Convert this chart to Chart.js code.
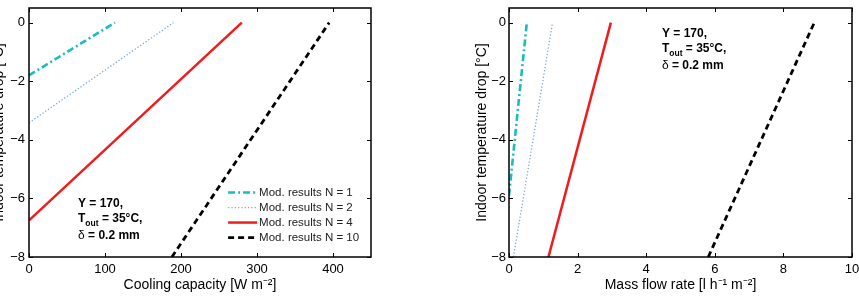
<!DOCTYPE html>
<html><head><meta charset="utf-8">
<script src="https://cdn.jsdelivr.net/npm/chart.js@4.4.0/dist/chart.umd.min.js"></script>
<style>
html,body{margin:0;padding:0;background:#fff;width:859px;height:298px;overflow:hidden;position:relative}
.p{position:absolute;top:0;height:298px}
#pa{left:-12px;width:442px}
#pb{left:465px;width:394px}
</style></head><body>
<div class="p" id="pa"><canvas id="ca"></canvas></div>
<div class="p" id="pb"><canvas id="cb"></canvas></div>
<script>
// ---- data ----
const seriesLabels = ['Mod. results N = 1', 'Mod. results N = 2', 'Mod. results N = 4', 'Mod. results N = 10'];
// Left panel: cooling capacity [W m-2] vs indoor temperature drop [°C]
const capN1 = [0, 113],   dropCapN1 = [-1.8, 0];
const capN2 = [0, 190],   dropCapN2 = [-3.42, 0];
const capN4 = [0, 280],   dropCapN4 = [-6.75, 0];
const capN10 = [188, 395], dropCapN10 = [-8, 0];
// Right panel: mass flow rate [l h-1 m-2] vs indoor temperature drop [°C]
const flowN1 = [0, 0.52],    dropFlowN1 = [-5.9, 0];
const flowN2 = [0.13, 1.27], dropFlowN2 = [-8, 0];
const flowN4 = [1.15, 2.97], dropFlowN4 = [-8, 0];
const flowN10 = [5.81, 8.9], dropFlowN10 = [-8, 0];
// tick labels
const yTicks = [-8, -6, -4, -2, 0];
const xTicksCap = [0, 100, 200, 300, 400];
const xTicksFlow = [0, 2, 4, 6, 8, 10];

const F = "'Liberation Sans', Arial, Helvetica, sans-serif";
Chart.defaults.font.family = F;
Chart.defaults.font.size = 13;
Chart.defaults.color = '#000';
const fmt = v => String(v).replace('-', '\u2212');
function pts(xs, ys) { return xs.map((x, i) => ({x: x, y: ys[i]})); }

const styles = [
  {borderColor: '#1cbcbc', borderWidth: 2.6, borderDash: [7, 3, 2, 3]},
  {borderColor: '#7eaad2', borderWidth: 1.3, borderDash: [1.3, 2]},
  {borderColor: '#ee1c1c', borderWidth: 2.5, borderDash: []},
  {borderColor: '#000000', borderWidth: 2.8, borderDash: [6, 4]}
];

function datasets(groups) {
  return groups.map((g, i) => Object.assign({
    label: seriesLabels[i], data: pts(g[0], g[1]), showLine: true,
    pointRadius: 0, fill: false, tension: 0
  }, styles[i]));
}

const frame = {
  id: 'frame',
  afterDraw(chart) {
    const {ctx, chartArea: {left, right, top, bottom}, scales: {x, y}} = chart;
    ctx.save();
    ctx.strokeStyle = '#000';
    ctx.lineWidth = 1;
    ctx.beginPath();
    x.ticks.forEach(t => {
      const px = Math.round(x.getPixelForValue(t.value)) + 0.5;
      ctx.moveTo(px, bottom); ctx.lineTo(px, bottom - 4);
      ctx.moveTo(px, top); ctx.lineTo(px, top + 4);
    });
    y.ticks.forEach(t => {
      const py = Math.round(y.getPixelForValue(t.value)) + 0.5;
      ctx.moveTo(left, py); ctx.lineTo(left + 4, py);
      ctx.moveTo(right, py); ctx.lineTo(right - 4, py);
    });
    ctx.stroke();
    ctx.lineWidth = 1.5;
    ctx.strokeRect(left, top, right - left, bottom - top);
    ctx.restore();
  }
};

const lineLegend = {
  id: 'lineLegend',
  afterDatasetsDraw(chart, args, opts) {
    if (!opts || !opts.show) return;
    const {ctx, scales: {x, y}} = chart;
    const x0 = x.getPixelForValue(opts.x), y0 = y.getPixelForValue(opts.y);
    ctx.save();
    chart.data.datasets.forEach((ds, i) => {
      const yy = y0 + i * opts.rowH;
      ctx.beginPath();
      ctx.strokeStyle = ds.borderColor;
      ctx.lineWidth = ds.borderWidth;
      ctx.setLineDash(ds.borderDash || []);
      ctx.moveTo(x0, yy); ctx.lineTo(x0 + opts.sample, yy);
      ctx.stroke();
      ctx.setLineDash([]);
      ctx.fillStyle = '#222';
      ctx.font = '11.5px ' + F;
      ctx.textBaseline = 'middle';
      ctx.textAlign = 'left';
      ctx.fillText(ds.label, x0 + opts.sample + 2, yy + 0.5);
    });
    ctx.restore();
  }
};

const note = {
  id: 'note',
  afterDraw(chart, args, opts) {
    if (!opts || !opts.show) return;
    const {ctx, scales: {x, y}} = chart;
    const x0 = x.getPixelForValue(opts.x), y0 = y.getPixelForValue(opts.y);
    ctx.save();
    ctx.fillStyle = '#000';
    ctx.textBaseline = 'alphabetic';
    ctx.textAlign = 'left';
    const B = 'bold 12px ' + F;
    ctx.font = B;
    ctx.fillText('Y = 170,', x0, y0);
    let cx = x0;
    ctx.fillText('T', cx, y0 + 15); cx += ctx.measureText('T').width;
    ctx.font = 'bold 8.5px ' + F;
    ctx.fillText('out', cx, y0 + 19); cx += ctx.measureText('out').width;
    ctx.font = B;
    ctx.fillText(' = 35\u00b0C,', cx, y0 + 15);
    cx = x0;
    ctx.font = '12px ' + F;
    ctx.fillText('\u03b4', cx, y0 + 32); cx += ctx.measureText('\u03b4').width;
    ctx.font = B;
    ctx.fillText(' = 0.2 mm', cx, y0 + 32);
    ctx.restore();
  }
};

function scales(xMin, xMax, xTicks, xTitle, yWidth, yTitlePad, yTickPad) {
  return {
    x: {
      type: 'linear', min: xMin, max: xMax,
      grid: {display: false, drawTicks: false, tickLength: 0}, border: {display: false},
      afterBuildTicks: s => { s.ticks = xTicks.map(v => ({value: v})); },
      afterFit: s => { s.height = 41; s.paddingLeft = 0; s.paddingRight = 0; },
      ticks: {padding: 5, color: '#000', font: {size: 13, family: F}, maxRotation: 0, autoSkip: false, callback: v => fmt(v)},
      title: {display: true, text: xTitle, color: '#000', font: {size: 14, family: F}, padding: {top: 0, bottom: 4}}
    },
    y: {
      type: 'linear', min: -8, max: 0.5,
      grid: {display: false, drawTicks: false, tickLength: 0}, border: {display: false},
      afterBuildTicks: s => { s.ticks = yTicks.map(v => ({value: v})); },
      afterFit: s => { s.width = yWidth; s.paddingTop = 0; s.paddingBottom = 0; },
      ticks: {padding: yTickPad, color: '#000', font: {size: 13, family: F}, autoSkip: false, callback: v => fmt(v)},
      title: {display: true, text: 'Indoor temperature drop [\u00b0C]', color: '#000', font: {size: 14, family: F}, padding: {top: yTitlePad, bottom: 0}}
    }
  };
}

function make(id, ds, sc, pad, plug) {
  return new Chart(document.getElementById(id), {
    type: 'scatter',
    data: {datasets: ds},
    options: {
      responsive: true, maintainAspectRatio: false, animation: false,
      devicePixelRatio: 1,
      layout: {padding: pad},
      scales: sc,
      plugins: Object.assign({legend: {display: false}, tooltip: {enabled: false}}, plug)
    },
    plugins: [frame, lineLegend, note]
  });
}

make('ca',
  datasets([[capN1, dropCapN1], [capN2, dropCapN2], [capN4, dropCapN4], [capN10, dropCapN10]]),
  scales(0, 450, xTicksCap, 'Cooling capacity [W m\u207b\u00b2]', 41, 3, 4),
  {top: 8, right: 59, left: 0, bottom: 0},
  {lineLegend: {show: true, x: 262, y: -5.8, rowH: 15, sample: 29},
   note: {show: true, x: 64.5, y: -6.28}});

make('cb',
  datasets([[flowN1, dropFlowN1], [flowN2, dropFlowN2], [flowN4, dropFlowN4], [flowN10, dropFlowN10]]),
  scales(0, 10, xTicksFlow, 'Mass flow rate [l h\u207b\u00b9 m\u207b\u00b2]', 44, 9, 3),
  {top: 8, right: 7, left: 0, bottom: 0},
  {lineLegend: {show: false}, note: {show: true, x: 4.46, y: -0.48}});
</script>
</body></html>
